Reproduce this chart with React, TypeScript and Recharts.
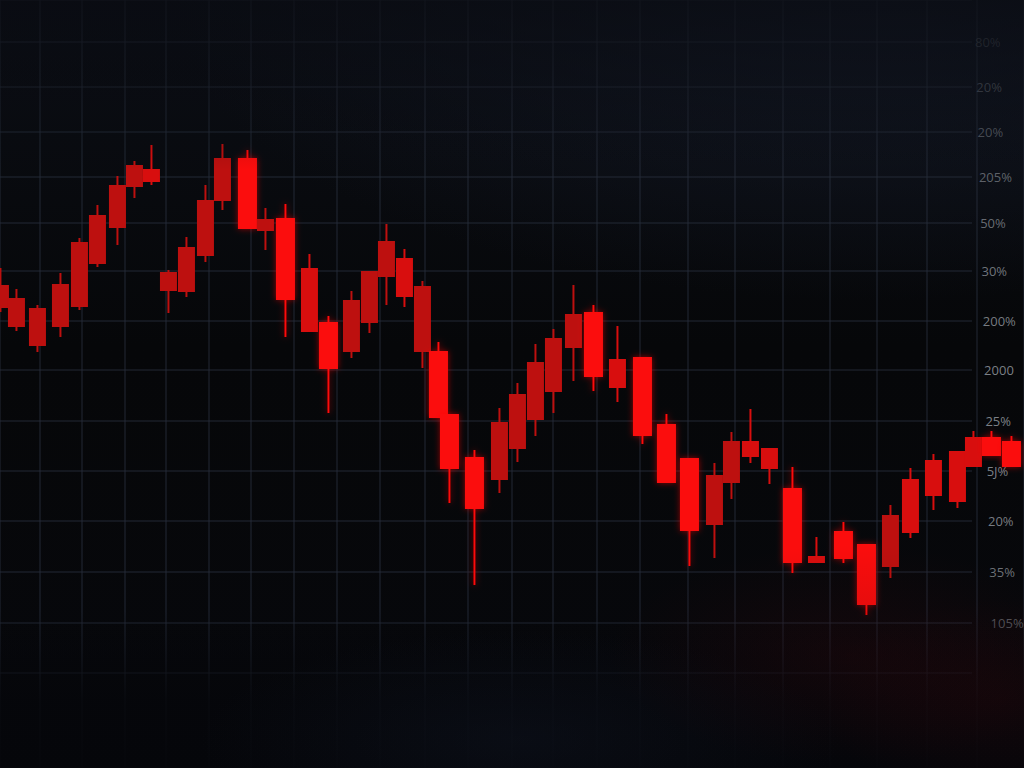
import React from "react";
import { ComposedChart, Bar, XAxis, YAxis, CartesianGrid } from "recharts";

// session position of each candle (irregular spacing)
const TIME = [
  0, 16, 37, 60, 79, 97, 117, 134, 151, 168, 186, 205, 222, 247, 265, 285, 309,
  328, 351, 369, 386, 404, 422, 438, 449, 474, 499, 517, 535, 553, 573, 593, 617,
  642, 666, 689, 714, 731, 750, 769, 792, 816, 843, 866, 890, 910, 933, 957, 973,
  991, 1011,
];
const OPEN = [
  483, 470, 460, 484, 526, 553, 583, 603, 599, 496, 521, 568, 610, 610, 549, 550,
  500, 446, 468, 497, 527, 510, 482, 417, 354, 311, 346, 374, 406, 430, 454, 456,
  409, 411, 344, 310, 293, 327, 327, 320, 280, 212, 237, 224, 253, 289, 308, 317,
  331, 331, 327,
];
const CLOSE = [
  460, 441, 422, 441, 461, 504, 540, 581, 586, 477, 476, 512, 567, 539, 537, 468,
  436, 399, 416, 445, 491, 471, 416, 350, 299, 259, 288, 319, 348, 376, 420, 391,
  380, 332, 285, 237, 243, 285, 311, 299, 205, 205, 209, 163, 201, 235, 272, 266,
  301, 312, 301,
];
const HIGH = [
  500, 479, 463, 495, 530, 563, 592, 607, 623, 498, 531, 583, 624, 618, 560, 564,
  514, 452, 477, 497, 544, 519, 487, 426, 354, 318, 360, 385, 424, 439, 483, 463,
  442, 411, 354, 310, 305, 336, 359, 320, 301, 231, 246, 224, 263, 300, 314, 317,
  337, 337, 332,
];
const LOW = [
  456, 437, 416, 431, 458, 501, 523, 570, 583, 455, 471, 506, 558, 539, 518, 431,
  436, 355, 410, 435, 463, 461, 400, 350, 265, 183, 275, 306, 332, 355, 387, 377,
  366, 324, 285, 202, 210, 269, 305, 284, 195, 205, 205, 153, 190, 230, 258, 260,
  301, 312, 301,
];

const Y_TICKS = [726, 681, 636, 591, 545, 497, 447, 398, 347, 297, 247, 196, 145, 95];
const Y_LABELS = ["80%", "20%", "20%", "205%", "50%", "30%", "200%", "2000", "25%", "5J%", "20%", "35%", "105%", ""];
const GRID_X = [40, 82, 125, 166, 209, 251, 294, 337, 380, 425, 468, 512, 553, 597, 640, 688, 735, 783, 830, 877, 927, 977];

// shade of each candle: b = bright, m = medium, d = dark
const TONE = "ddddddddmddddbdbmbdddmdbbbdddddbmbbbddmmbmbbdmmmmbb".split("");
const COLORS: Record<string, string> = { b: "#fb0b0b", m: "#d80e0e", d: "#bd100f" };
const LABEL_ALPHA = [0.28, 0.38, 0.46, 0.55, 0.62, 0.68, 0.72, 0.75, 0.75, 0.75, 0.72, 0.66, 0.55];

const data = TIME.map((t, i) => ({
  i,
  t,
  open: OPEN[i],
  close: CLOSE[i],
  high: HIGH[i],
  low: LOW[i],
}));

const Candle = (props: any) => {
  const { x, y, width, height, payload } = props;
  if (![x, y, width, height].every((v) => Number.isFinite(v))) return null;
  const cx = x + width / 2;
  const span = payload.high - payload.low || 1;
  const toY = (v: number) => y + ((payload.high - v) / span) * height;
  const top = toY(Math.max(payload.open, payload.close));
  const bot = toY(Math.min(payload.open, payload.close));
  const tone = TONE[payload.i];
  const fill = COLORS[tone];
  const bw = tone === "b" ? 19 : 17;
  return (
    <g filter={tone === "b" ? "url(#glow)" : undefined}>
      <rect x={cx - 1} y={y} width={2} height={height} fill={fill} />
      <rect x={cx - bw / 2} y={top} width={bw} height={Math.max(bot - top, 3)} fill={fill} />
    </g>
  );
};

const RightTick = ({ y, payload }: any) => {
  const i = Y_TICKS.indexOf(payload.value);
  const label = Y_LABELS[i];
  if (!label) return null;
  return (
    <text
      x={975 + i * 1.3}
      y={y}
      dy={4.5}
      fill="#a3a9b1"
      fillOpacity={LABEL_ALPHA[i]}
      fontSize={13}
      fontFamily="'Open Sans', sans-serif"
      textAnchor="start"
    >
      {label}
    </text>
  );
};

export default function App() {
  return (
    <div
      style={{
        position: "relative",
        width: 1024,
        height: 768,
        overflow: "hidden",
        background:
          "radial-gradient(ellipse 700px 300px at 85% 0%, #121723 0%, rgba(18,23,35,0) 100%), linear-gradient(#0b0e15 0%, #060709 45%, #07080c 100%)",
      }}
    >
      <style>{"body{margin:0;background:#06070a}"}</style>
      <ComposedChart width={1024} height={768} data={data} margin={{ top: 0, right: 0, bottom: 0, left: 0 }}>
        <defs>
          <filter id="glow" x="-50%" y="-20%" width="200%" height="140%">
            <feGaussianBlur in="SourceGraphic" stdDeviation="3" result="blur" />
            <feColorMatrix in="blur" type="matrix" values="1 0 0 0 0  0 1 0 0 0  0 0 1 0 0  0 0 0 0.55 0" result="soft" />
            <feMerge>
              <feMergeNode in="soft" />
              <feMergeNode in="SourceGraphic" />
            </feMerge>
          </filter>
        </defs>
        <CartesianGrid stroke="#262d3a" strokeOpacity={0.9} width={972} />
        <XAxis dataKey="t" type="number" domain={[0, 1024]} ticks={GRID_X} hide />
        <YAxis
          type="number"
          orientation="right"
          mirror
          domain={[0, 768]}
          ticks={Y_TICKS}
          interval={0}
          axisLine={false}
          tickLine={false}
          tick={<RightTick />}
        />
        <Bar dataKey={(d: any) => [d.low, d.high]} barSize={17} shape={<Candle />} isAnimationActive={false} />
      </ComposedChart>
      <div
        style={{
          position: "absolute",
          inset: 0,
          pointerEvents: "none",
          background:
            "linear-gradient(to bottom, rgba(9,11,17,0.7) 0px, rgba(9,11,17,0) 170px), linear-gradient(to bottom, rgba(5,6,10,0) 610px, rgba(5,6,10,0.85) 700px, rgba(5,6,10,0.95) 768px)",
        }}
      />
      <div
        style={{
          position: "absolute",
          inset: 0,
          pointerEvents: "none",
          background:
            "radial-gradient(ellipse 240px 110px at 850px 655px, rgba(70,8,12,0.2), rgba(70,8,12,0) 100%), radial-gradient(ellipse 180px 100px at 1000px 700px, rgba(80,8,10,0.16), rgba(80,8,10,0) 100%), radial-gradient(ellipse 320px 110px at 520px 740px, rgba(20,28,45,0.3), rgba(20,28,45,0) 100%)",
        }}
      />
    </div>
  );
}
